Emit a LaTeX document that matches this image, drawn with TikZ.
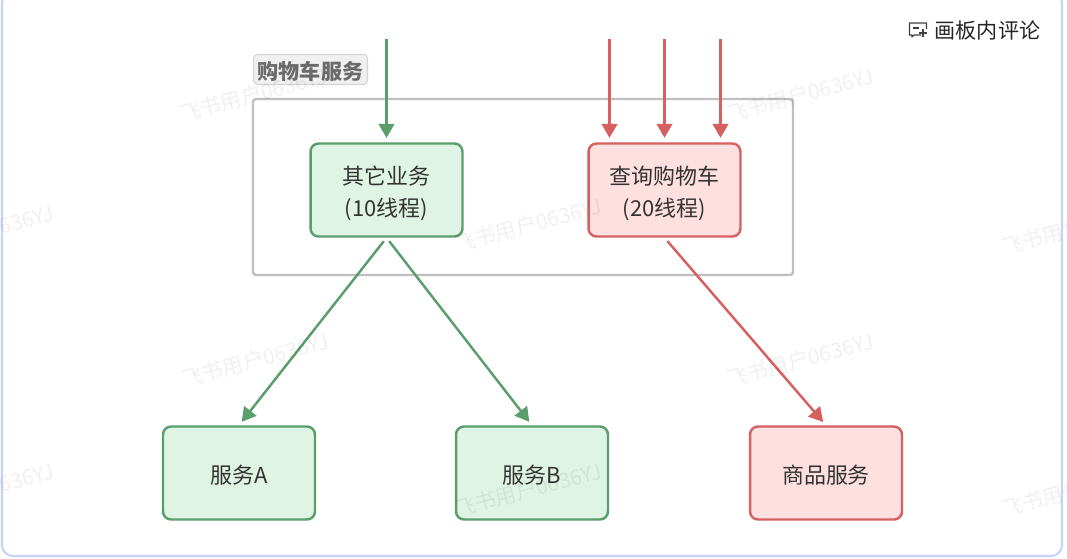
\documentclass[tikz,border=0pt]{standalone}
\usepackage{fontspec}
\usepackage{xcolor}
\usetikzlibrary{arrows.meta}
\setmainfont{Noto Sans CJK SC}

\definecolor{okline}{HTML}{5A9E6B}
\definecolor{okfill}{HTML}{DFF4E4}
\definecolor{badline}{HTML}{D66060}
\definecolor{badfill}{HTML}{FFE0E1}
\definecolor{frameline}{HTML}{BDBFC4}
\definecolor{pageline}{HTML}{C6D4FD}

\newcommand{\boxtext}[1]{\raisebox{-2.5pt}[\height][\depth]{\begin{tabular}{@{}c@{}}#1\end{tabular}}}

\tikzset{
	box/.style = {draw, rounded corners=1.6mm, line width=1.4pt, minimum width=3.04cm, minimum height=1.86cm, inner sep=0pt,
		text=black!80, font=\fontsize{12.5}{18.2}\selectfont},
	okbox/.style = {box, draw=okline, fill=okfill},
	badbox/.style = {box, draw=badline, fill=badfill},
	okarrow/.style = {draw=okline, line width=1.4pt, -{Triangle[length=2.8mm,width=3.1mm]}},
	badarrow/.style = {draw=badline, line width=1.4pt, -{Triangle[length=2.8mm,width=3.1mm]}},
	watermark/.style = {text=black, opacity=.06, rotate=15, font=\fontsize{12}{14}\selectfont}
}

\begin{document}
\begin{tikzpicture}[x=0.02cm, y=-0.02cm]
	\useasboundingbox (0,0) rectangle (1067,558);

	\draw[pageline, line width=1.2pt, rounded corners=2.2mm] (2,-8) rectangle (1062,556); % page edge

	\draw[frameline, line width=1.4pt, rounded corners=0.6mm] (253,99) rectangle (793,275);
	\node[draw=black!17, fill=black!6, rounded corners=0.8mm, line width=0.6pt, minimum width=2.28cm, minimum height=0.6cm, inner sep=0pt, text=black!58, font=\fontsize{12}{14}\selectfont\bfseries] (cartlabel) at (310.5,69.5) {\raisebox{-1.2pt}[\height][\depth]{购物车服务}};

	\node[okbox] (other) at (386.5,190) {\boxtext{其它业务\\(10线程)}};
	\node[badbox] (query) at (664.5,190) {\boxtext{查询购物车\\(20线程)}};
	\node[okbox] (serviceA) at (239,473) {\boxtext{服务A}};
	\node[okbox] (serviceB) at (532,473) {\boxtext{服务B}};
	\node[badbox] (product) at (826,473) {\boxtext{商品服务}};

	\coordinate (othertop) at (386.5,39);
	\coordinate (querytopA) at (609.5,39);
	\coordinate (querytopB) at (664.5,39);
	\coordinate (querytopC) at (720.5,39);

	\draw[okarrow, shorten >=2.5pt] (othertop) -- (othertop |- other.north);
	\draw[badarrow, shorten >=2.5pt] (querytopA) -- (querytopA |- query.north);
	\draw[badarrow, shorten >=2.5pt] (querytopB) -- (querytopB |- query.north);
	\draw[badarrow, shorten >=2.5pt] (querytopC) -- (querytopC |- query.north);

	\draw[okarrow, shorten <=2.5pt, shorten >=2.5pt] (other.south) -- (serviceA.north);
	\draw[okarrow, shorten <=2.5pt, shorten >=2.5pt] (other.south) -- (serviceB.north);
	\draw[badarrow, shorten <=2.5pt, shorten >=2.5pt] (query.south) -- (product.north);

	% comment button
	\draw[black!75, line width=0.7pt, line join=round] (921,35) -- (914,35) -- (912,37) -- (912,35) -- (909.5,35) -- (909.5,23) -- (926.5,23) -- (926.5,29);
	\draw[black!75, line width=0.7pt] (913,28) -- (919,28) (919,33) -- (927,33) (923,29) -- (923,37);
	\node[text=black!85, font=\fontsize{12}{14}\selectfont] (commentlabel) at (987.5,30.5) {画板内评论};

	% watermarks
	\foreach \x/\y [count=\i] in {253/95, 800/95, -20/232, 528/225, 1075/228, 255/360, 800/360, -20/490, 528/490, 1075/490}
		\node[watermark] (mark\i) at (\x,\y) {飞书用户0636YJ};
\end{tikzpicture}
\end{document}
